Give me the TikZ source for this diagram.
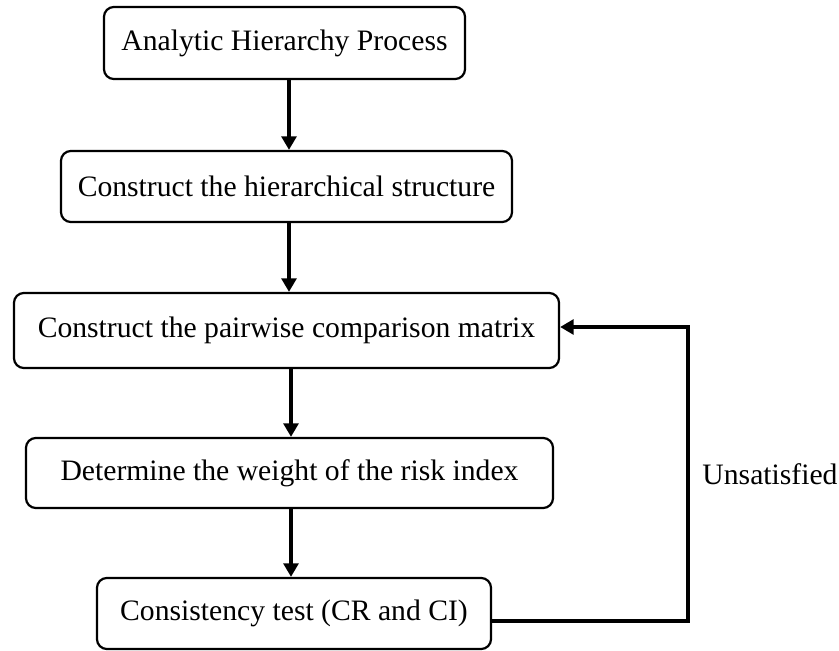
\documentclass[tikz,border=0pt]{standalone}
\usepackage{fontspec}
\setmainfont{Liberation Serif}
\usepackage{tikz}
\usetikzlibrary{arrows.meta}

\begin{document}
\begin{tikzpicture}[x=0.408pt, y=-0.408pt,
		stepbox/.style={draw, line width=0.9pt, rounded corners=4pt, inner sep=0pt, font=\fontsize{12.1}{14}\selectfont},
		flow/.style={line width=1.4pt, -{Triangle[length=5.5pt, width=6pt]}}]
				\useasboundingbox (0, 0) rectangle (839, 651);
				\node[stepbox, minimum width=361*0.408pt, minimum height=72*0.408pt] (ahp) at (284.5, 43) {Analytic Hierarchy Process};
				\node[stepbox, minimum width=451*0.408pt, minimum height=71*0.408pt] (hier) at (286.5, 186.5) {Construct the hierarchical structure};
				\node[stepbox, minimum width=545*0.408pt, minimum height=75*0.408pt] (pair) at (286.5, 330.5) {Construct the pairwise comparison matrix};
				\node[stepbox, minimum width=527*0.408pt, minimum height=70*0.408pt] (weight) at (289.5, 473) {Determine the weight of the risk index};
				\node[stepbox, minimum width=394*0.408pt, minimum height=71*0.408pt] (test) at (294, 613.5) {Consistency test (CR and CI)};
				\node[anchor=west, inner sep=0pt, font=\fontsize{12.1}{14}\selectfont] (unsat) at (702, 474) {Unsatisfied};
				\coordinate (col) at (289, 0);
				\coordinate (loop) at (688, 0);
				\draw[flow] (ahp.south -| col) -- (hier.north -| col);
				\draw[flow] (hier.south -| col) -- (pair.north -| col);
				\draw[flow] (pair.south -| col) ++(2, 0) -- (weight.north -| 291, 0);
				\draw[flow] (weight.south -| 291, 0) -- (test.north -| 291, 0);
				\draw[flow] (test.east |- 0, 621) -| (loop |- 0, 327) -- (pair.east |- 0, 327);
			\end{tikzpicture}
\end{document}
